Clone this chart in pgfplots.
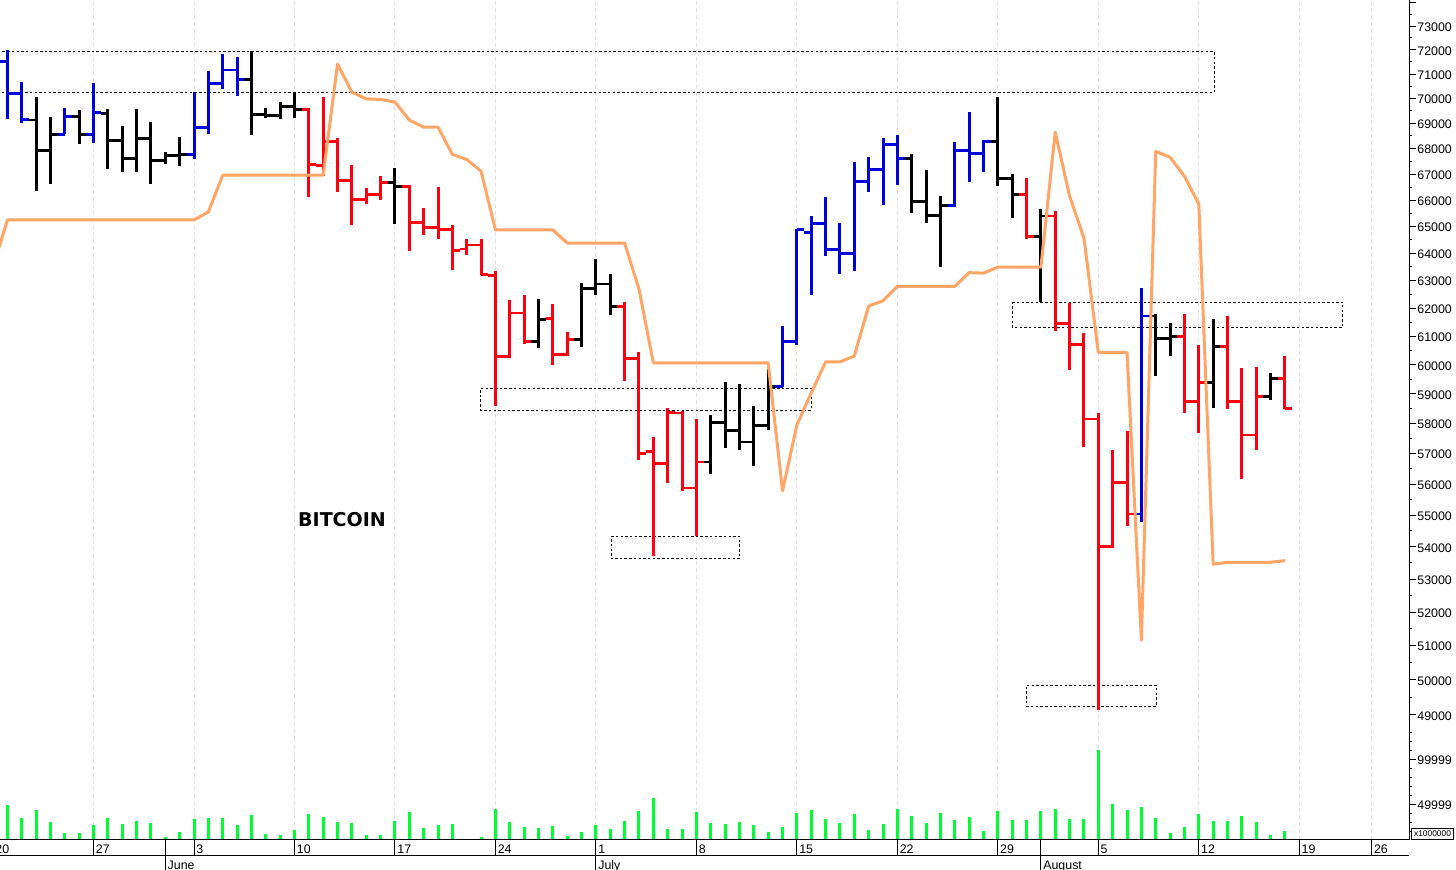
\documentclass[border=0pt]{standalone}
\usepackage{fontspec}
\setmainfont{Liberation Sans}
\newfontfamily\dejabold{DejaVu Sans Bold}
\usepackage{pgfplots}
\usepackage{pgfplotstable}
\pgfplotsset{compat=1.18}
\definecolor{cblue}{HTML}{0000D8}
\definecolor{cred}{HTML}{FF0010}
\definecolor{corange}{HTML}{FFA566}
\definecolor{cgreen}{HTML}{00FF30}
\definecolor{cgrid}{HTML}{E2E2E2}
\pgfplotstableread{
i o h l c
0 71500 71990 69170 70210
1 70210 70680 69000 69160
4 68560 69630 68560 69280
6 68560 70640 68200 69450
13 67760 70270 67580 68840
14 68840 71140 68560 70620
15 70620 71810 70390 71170
16 71170 71700 70100 70780
54 59250 61380 59240 60810
55 60810 64900 60700 64900
56 64770 65400 62480 65120
57 65120 66130 63910 64150
58 64150 65140 63240 64000
59 64000 67470 63340 66730
60 66730 67660 66300 67180
61 67180 68420 65810 68170
62 68170 68530 66600 67610
66 65790 68260 65750 67920
67 67920 69470 66700 67800
68 67800 68330 67070 68290
79 55040 62720 54780 61720
}\bluebars
\pgfplotstableread{
i o h l c
2 69130 70070 66350 67930
3 67930 69260 66640 68560
5 69280 69530 68170 68560
7 69400 69570 67220 68330
8 68330 68900 67080 67620
9 67620 69560 67100 68400
10 68400 69040 66640 67520
11 67520 67860 67390 67740
12 67740 68460 67310 67760
17 70780 71960 68530 69360
18 69360 69600 69230 69300
19 69300 69870 69160 69690
20 69690 70230 69200 69560
27 66690 67240 65080 66510
37 60820 62330 60580 61600
40 60900 62920 60640 62700
41 62700 63790 62480 62880
42 62880 63240 61760 62050
49 56720 58290 56330 58040
50 58040 59420 57180 57750
51 57750 59340 57120 57380
52 57380 58570 56590 57920
53 57920 59860 57780 59250
63 67610 67800 65500 65960
64 65960 67150 65120 65430
65 65430 66170 63490 65790
69 68290 70050 66530 66830
70 66830 67000 65310 66220
72 64640 65650 62220 65400
80 61720 61790 59600 60920
81 60920 61480 60310 60980
84 59400 61600 58510 60630
88 58920 59730 58800 59520
}\blackbars
\pgfplotstableread{
i o h l c
21 69560 69630 66130 67390
22 67330 70050 66920 68290
23 68290 68420 66320 66770
24 66770 67350 65060 66030
25 66030 66450 65850 66220
26 66220 66920 66000 66690
28 66540 66600 64090 65160
29 65160 65720 64680 64970
30 64970 66510 64530 64870
31 64870 65060 63380 64100
32 64160 64520 63930 64310
33 64310 64520 63210 63230
34 63190 63340 58600 60290
35 60290 62300 60230 61830
36 61830 62480 60720 60810
38 61640 62150 60000 60370
39 60350 61160 60320 60900
43 62050 62230 59440 60210
44 60210 60440 56770 57010
45 57060 57540 53730 56680
46 56680 58510 56030 58380
47 58350 58420 55790 55870
48 55870 58150 54330 56720
71 66220 66860 64530 64640
73 65400 65580 61190 61460
74 61460 62200 59830 60700
75 60700 61130 57210 58150
76 58150 58340 49140 54000
77 54000 57100 53970 56060
78 56060 57760 54640 55040
82 60980 61790 58340 58750
83 58750 60700 57690 59400
85 60630 61730 58480 58750
86 58750 59890 56160 57610
87 57610 59910 57120 58920
89 59520 60320 58480 58500
}\redbars
\pgfplotstableread{
i v
0 48830
1 34620
2 43570
3 30140
4 17830
5 17500
6 26790
7 34620
8 27900
9 31600
10 29360
11 13360
12 18620
13 33500
14 34620
15 34620
16 26790
17 37980
18 16380
19 15600
20 21530
21 39100
22 35740
23 30140
24 29020
25 15260
26 15600
27 31260
28 41330
29 23090
30 26790
31 27900
32 11450
33 13020
34 44690
35 30140
36 24210
37 23090
38 25670
39 14480
40 18620
41 26790
42 21970
43 31260
44 42450
45 57000
46 21970
47 21970
48 41330
49 29020
50 27900
51 30140
52 26790
53 18620
54 24210
55 40210
56 43570
57 33500
58 29020
59 39100
60 20850
61 27900
62 44350
63 36860
64 29020
65 40210
66 32380
67 35740
68 19740
69 42450
70 32380
71 32380
72 42450
73 44350
74 33500
75 33500
76 110710
77 50620
78 43570
79 46590
80 34620
81 17500
82 24210
83 39100
84 31260
85 31260
86 36860
87 30140
88 15260
89 19740
}\voltable
\newcommand\ohlc[2]{%
\addplot[draw=none,mark=none,forget plot,error bars/.cd,y dir=minus,y explicit,error mark=none,error bar style={#2,line width=1.5pt}]
  table[x=i,y=h,y error minus expr=\thisrow{h}-\thisrow{l}] {#1};
\addplot[draw=none,mark=none,forget plot,error bars/.cd,x dir=minus,x fixed=0.5,error mark=none,error bar style={#2,line width=1.4pt}]
  table[x=i,y=o] {#1};
\addplot[draw=none,mark=none,forget plot,error bars/.cd,x dir=plus,x fixed=0.5,error mark=none,error bar style={#2,line width=1.4pt}]
  table[x=i,y=c] {#1};
}
\newcommand\zone[4]{%
\addplot[black,line width=0.5pt,dash pattern=on 1.25pt off 1.1pt,forget plot] coordinates {(#1,#3) (#2,#3) (#2,#4) (#1,#4) (#1,#3)};
}
\begin{document}
\begin{tikzpicture}
\path[use as bounding box] (0,0) rectangle (728pt,435pt);
\pgfplotsset{
  every axis/.append style={
    scale only axis, width=704.5pt,
    xmin=-0.5155, xmax=97.645,
    tick style={black,line width=0.5pt},
    tick align=outside,
    tick label style={font=\fontsize{6.2pt}{7pt}\selectfont},
  },
  pricestyle/.style={
    axis y line*=right, axis x line*=bottom,
    y axis line style={black,line width=0.5pt,-},
    xmajorgrids, grid style={cgrid,line width=0.5pt,dash pattern=on 2pt off 1.5pt},
    xtick={6,13,20,27,34,41,48,55,62,69,76,83,90,95.04},
    xticklabels={},
    x axis line style={draw=none},
    x tick style={draw=none},
    major tick length=3.5pt, minor tick length=1.5pt,
    scaled y ticks=false,
    yticklabel style={anchor=west,inner sep=0pt,xshift=0.5pt,yshift=-0.5pt},
    ytick pos=right,
  },
}
% main price panel
\begin{semilogyaxis}[pricestyle,
  at={(0pt,65pt)}, anchor=south west, height=370pt,
  ymin=48296, ymax=74120,
  ytick={49000,50000,51000,52000,53000,54000,55000,56000,57000,58000,59000,60000,61000,62000,63000,64000,65000,66000,67000,68000,69000,70000,71000,72000,73000,74000},
  yticklabels={49000,50000,51000,52000,53000,54000,55000,56000,57000,58000,59000,60000,61000,62000,63000,64000,65000,66000,67000,68000,69000,70000,71000,72000,73000,},
  minor ytick={48500,49500,50500,51500,52500,53500,54500,55500,56500,57500,58500,59500,60500,61500,62500,63500,64500,65500,66500,67500,68500,69500,70500,71500,72500,73500},
]
\zone{-1}{84.06}{71940}{70240}
\zone{32.99}{56.0}{59190}{58440}
\zone{42.06}{51.0}{54330}{53630}
\zone{70.0}{93.04}{62220}{61320}
\zone{71.03}{80.02}{49840}{49240}
\ohlc{\bluebars}{cblue}
\ohlc{\blackbars}{black}
\ohlc{\redbars}{cred}
\addplot[corange,line width=1.5pt,line join=round,mark=none] coordinates {
(-1,63500) (0,65250) (13,65250) (14,65550) (15,66960) (22,66960) (23,71410) (24,70260) (25,69980) (26,69960) (27,69860) (28,69130) (29,68850) (30,68850) (31,67770) (32,67570) (33,67120) (34,64870) (38,64870) (39,64380) (43,64380) (44,62690) (45,60070) (53,60070) (54,55780) (55,57950) (56,59030) (57,60100) (58,60100) (59,60310) (60,62080) (61,62260) (62,62790) (66,62790) (67,63290) (68,63270) (69,63490) (72,63490) (73,68650) (74,66150) (75,64570) (76,60430) (78,60430) (79,51170) (80,67890) (81,67660) (82,66920) (83,65850) (84,53460) (85,53520) (88,53520) (89,53570)};
\end{semilogyaxis}
% volume panel
\begin{axis}[pricestyle,
  at={(0pt,15pt)}, anchor=south west, height=50pt,
  ymin=10000, ymax=121900,
  ytick={49999,99999},
  yticklabels={49999,99999},
  minor ytick={19999,29999,39999,59999,69999,79999,89999,109999,119999},
]
\addplot[ycomb,cgreen,line width=1.5pt,mark=none] table[x=i,y=v] {\voltable};
\end{axis}
% weekly date ticks
\begin{axis}[
  at={(0pt,15pt)}, anchor=south west, height=50pt,
  ymin=0, ymax=1,
  axis x line*=bottom, axis y line=none,
  x axis line style={black,line width=0.5pt,-},
  major tick length=8pt,
  xtick={6,13,20,27,34,41,48,55,62,69,76,83,90,95.04},
  xticklabels={27,3,10,17,24,1,8,15,22,29,5,12,19,26},
  xticklabel style={anchor=north west,inner sep=0pt,xshift=1pt,yshift=5.6pt},
]
\end{axis}
% month ticks
\begin{axis}[
  at={(0pt,15pt)}, anchor=south west, height=50pt,
  ymin=0, ymax=1,
  axis x line*=bottom, axis y line=none,
  x axis line style={draw=none},
  major tick length=15pt,
  xtick={11,41,72},
  xticklabels={June,July,August},
  xticklabel style={anchor=north west,inner sep=0pt,xshift=1pt,yshift=4.9pt},
]
\end{axis}
\draw[black,line width=0.5pt] (0,7pt) -- (704.5pt,7pt);
\node[anchor=north west,inner sep=0pt,font=\fontsize{6.2pt}{7pt}\selectfont] at (-2.5pt,12.6pt) {20};
\node[font=\dejabold\fontsize{9.5pt}{11pt}\selectfont,inner sep=0pt] at (171pt,175pt) {BITCOIN};
\node[draw=black,line width=0.5pt,inner sep=0pt,minimum width=21pt,minimum height=5.7pt,anchor=south west,font=\fontsize{4.2pt}{5pt}\selectfont] at (705.5pt,15pt) {x1000000};
\end{tikzpicture}
\end{document}
